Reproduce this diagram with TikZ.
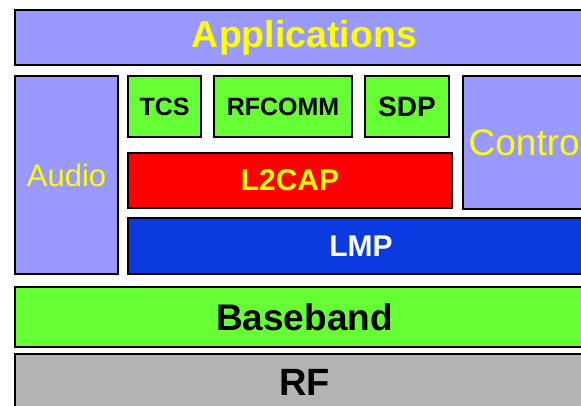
\documentclass[tikz,border=0pt]{standalone}
\usepackage{fontspec}
\setmainfont{Liberation Sans}
\usepackage{xcolor}

\definecolor{applav}{HTML}{9999FF}
\definecolor{protgreen}{HTML}{66FF33}
\definecolor{l2red}{HTML}{FF0000}
\definecolor{lmpblue}{HTML}{0B3BE0}
\definecolor{rfgray}{HTML}{B3B3B3}
\definecolor{labyellow}{HTML}{FFFF00}

\newcommand{\fsz}[1]{\fontsize{#1}{#1}\selectfont}

\tikzset{
  layer/.style={draw=black, line width=2pt, inner sep=0pt, outer sep=0pt},
  lavbox/.style={layer, fill=applav, text=labyellow},
  greenbox/.style={layer, fill=protgreen, text=black},
}

\begin{document}
\begin{tikzpicture}[x=1pt,y=-1pt]
  \useasboundingbox (0,0) rectangle (581,405);
  \clip (0,0) rectangle (581,405);

  % top row
  \node[lavbox, minimum width=579pt, minimum height=55pt, font=\fsz{37.5}\bfseries]
    (apps) at (304.5,37.5) {Applications};

  % middle block
  \node[lavbox, minimum width=103pt, minimum height=198pt, font=\fsz{31}]
    (audio) at (66.5,175) {Audio};
  \node[greenbox, minimum width=73pt, minimum height=61pt, font=\fsz{25}\bfseries]
    (tcs) at (164.5,106.5) {TCS};
  \node[greenbox, minimum width=138pt, minimum height=61pt, font=\fsz{25}\bfseries]
    (rfcomm) at (283,106.5) {RFCOMM};
  \node[greenbox, minimum width=84pt, minimum height=61pt, font=\fsz{28}\bfseries]
    (sdp) at (407,106.5) {SDP};
  \node[lavbox, minimum width=131pt, minimum height=133pt]
    (control) at (528.5,142.5) {};
  \node[anchor=west, inner sep=0pt, text=labyellow, font=\fsz{37}]
    (controltxt) at ([xshift=5.5pt]control.west) {Control};
  \node[layer, fill=l2red, text=labyellow, minimum width=324pt, minimum height=55pt,
    font=\fsz{30}\bfseries] (l2cap) at (290,180.5) {L2CAP};
  \node[layer, fill=lmpblue, text=white, minimum width=466pt, minimum height=56pt,
    font=\fsz{30}\bfseries] (lmp) at (361,246) {LMP};

  % bottom layers
  \node[greenbox, minimum width=579pt, minimum height=60pt, font=\fsz{37}\bfseries]
    (baseband) at (304.5,317) {Baseband};
  \node[layer, fill=rfgray, text=black, minimum width=579pt, minimum height=56pt,
    font=\fsz{38}\bfseries] (rf) at (304.5,382) {RF};
\end{tikzpicture}
\end{document}
